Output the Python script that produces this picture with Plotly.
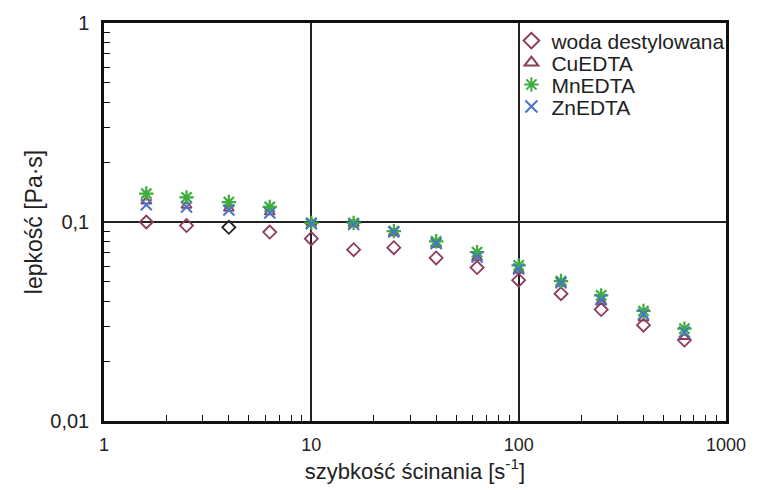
import plotly.graph_objects as go

shear_rate = [1.6, 2.5, 4, 6.3, 10, 16, 25, 40, 63, 100, 160, 250, 400, 630]
woda = [0.100, 0.096, 0.094, 0.089, 0.0825, 0.0726, 0.0743, 0.066, 0.059, 0.051, 0.0436, 0.0363, 0.0303, 0.0255]
cu = [0.127, 0.121, 0.117, 0.112, 0.099, 0.098, 0.088, 0.077, 0.066, 0.057, 0.049, 0.0397, 0.0328, 0.0265]
mn = [0.139, 0.133, 0.126, 0.119, 0.099, 0.099, 0.090, 0.080, 0.0706, 0.0605, 0.0505, 0.0428, 0.0357, 0.0291]
zn = [0.122, 0.119, 0.115, 0.111, 0.098, 0.097, 0.089, 0.078, 0.0667, 0.058, 0.0495, 0.0407, 0.0344, 0.028]

minor_x = [m * 10 ** d for d in range(3) for m in range(2, 10)]
minor_y = [m * 10.0 ** d for d in (-2, -1) for m in range(2, 10)]

woda_colors = ["#8E3A5E"] * len(woda)
woda_colors[2] = "#222222"

font = "Liberation Sans, Arial, sans-serif"

fig = go.Figure()
fig.add_trace(go.Scatter(x=shear_rate, y=woda, mode="markers", name="woda destylowana", legend="legend",
                         marker=dict(symbol="diamond-open", size=10, color=woda_colors,
                                     line=dict(width=1.8, color=woda_colors))))
fig.add_trace(go.Scatter(x=shear_rate, y=cu, mode="markers", name="CuEDTA", legend="legend2",
                         marker=dict(symbol="triangle-up-open", size=9, color="#8A3E5E",
                                     line=dict(width=1.8, color="#8A3E5E"))))
fig.add_trace(go.Scatter(x=shear_rate, y=mn, mode="markers", name="MnEDTA", legend="legend3",
                         marker=dict(symbol="asterisk-open", size=12, color="#3DAE3D",
                                     line=dict(width=2.2, color="#3DAE3D"))))
fig.add_trace(go.Scatter(x=shear_rate, y=zn, mode="markers", name="ZnEDTA", legend="legend4",
                         marker=dict(symbol="x-thin-open", size=11, color="#4A74C4",
                                     line=dict(width=2, color="#4A74C4"))))

plot_top, plot_h = 22, 399
rows = [40, 62, 84, 106]


def leg(row_px):
    return dict(x=0.655, y=1 - (row_px - plot_top) / plot_h, xanchor="left", yanchor="middle",
                bgcolor="rgba(0,0,0,0)", font=dict(size=21, family=font, color="#222222"),
                itemsizing="constant", itemwidth=30)


fig.update_layout(
    width=758, height=493,
    margin=dict(l=104, r=28, t=22, b=72),
    paper_bgcolor="white", plot_bgcolor="white",
    font=dict(family=font, color="#222222", size=18),
    showlegend=True,
    legend=leg(rows[0]), legend2=leg(rows[1]), legend3=leg(rows[2]), legend4=leg(rows[3]),
)
fig.update_xaxes(
    type="log", range=[0, 3],
    tickvals=[1, 10, 100, 1000], ticktext=["1", "10", "100", "1000"],
    ticks="", showgrid=True, gridcolor="#222222", gridwidth=1.5,
    showline=True, linecolor="#111111", linewidth=2.5, mirror=True,
    minor=dict(ticks="inside", tickvals=minor_x, ticklen=6, tickcolor="#111111", tickwidth=1.2, showgrid=False),
    tickfont=dict(size=18), zeroline=False, ticklabelstandoff=6,
    title=dict(text="szybkość ścinania [s<sup>-1</sup>]", font=dict(size=22), standoff=8),
)
fig.update_yaxes(
    type="log", range=[-2, 0],
    tickvals=[0.01, 0.1, 1], ticktext=["0,01", "0,1", "1"],
    ticks="", showgrid=True, gridcolor="#222222", gridwidth=1.5,
    showline=True, linecolor="#111111", linewidth=2.5, mirror=True,
    minor=dict(ticks="inside", tickvals=minor_y, ticklen=6, tickcolor="#111111", tickwidth=1.2, showgrid=False),
    tickfont=dict(size=20), zeroline=False, ticklabelstandoff=8,
    title=dict(text="lepkość [Pa·s]", font=dict(size=23), standoff=2),
)

fig.write_html("out.html")
